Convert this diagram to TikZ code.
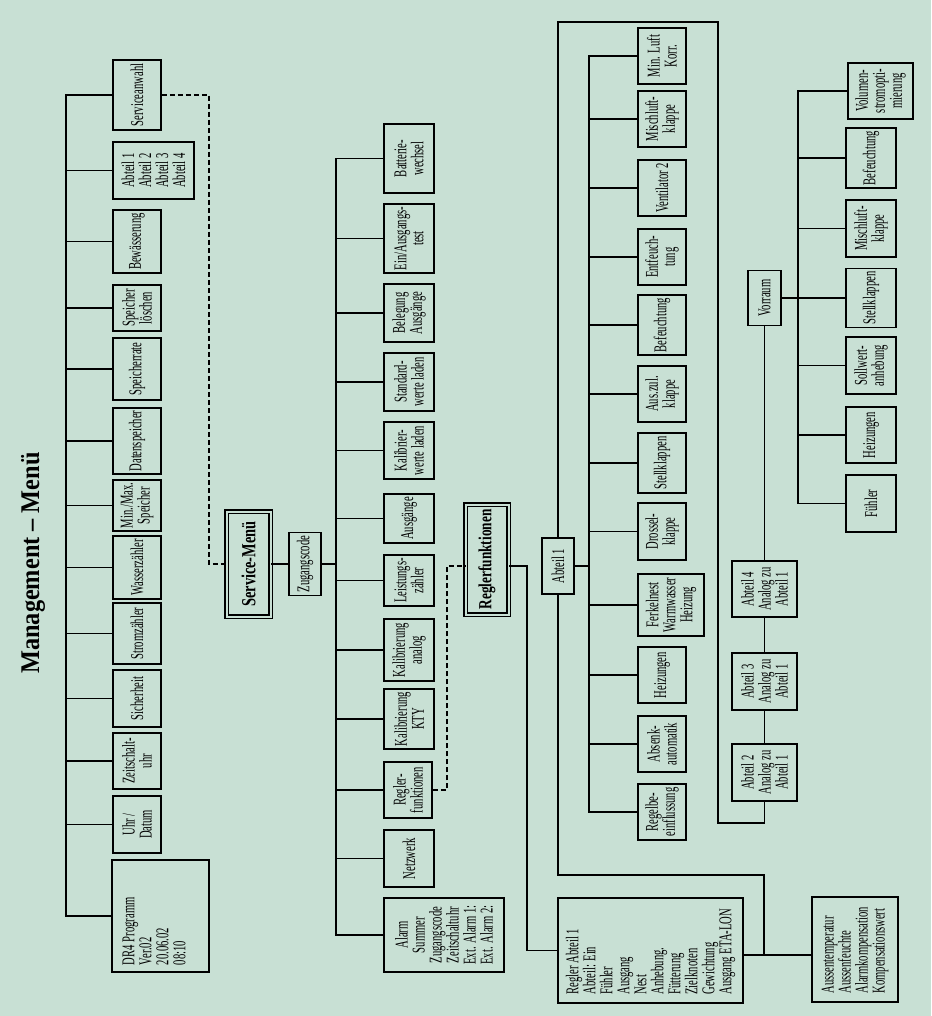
\documentclass[tikz,border=0pt]{standalone}
\usepackage{fontspec}
\setmainfont{Liberation Serif}[FakeStretch=0.59]
\newfontfamily\titlefont{Liberation Serif}[FakeStretch=0.9]
\newfontfamily\boldcond{Liberation Serif}[FakeStretch=0.72]
\definecolor{bg}{RGB}{200,224,212}
\begin{document}
\begin{tikzpicture}[x=1pt,y=-1pt,
  box/.style={draw, line width=1.5pt, rotate=90, inner sep=0pt, align=center,
    font=\fontsize{18}{17}\selectfont},
  txt/.style={rotate=90, inner sep=0pt, font=\fontsize{18}{17}\selectfont},
  dbl/.style={draw, line width=1.3pt, double=bg, double distance=2pt, rotate=90,
    inner sep=0pt, align=center},
  ln/.style={line width=1.3pt},
  dl/.style={line width=1.3pt, dash pattern=on 5pt off 3pt},
]
\fill[bg] (0,0) rectangle (931,1016);
\useasboundingbox (0,0) rectangle (931,1016);

% title
\node[rotate=90, inner sep=0pt, font=\titlefont\bfseries\fontsize{27}{30}\selectfont] (title) at (33,563) {Management – Menü};

% bus coordinates
\coordinate (mb) at (66,0);
\coordinate (dv) at (209,0);
\coordinate (sb) at (336,0);
\coordinate (dv2) at (447,0);
\coordinate (rv) at (527,0);
\coordinate (ab) at (589,0);
\coordinate (lx) at (718,0);
\coordinate (jx) at (764,0);
\coordinate (vb) at (798,0);
\coordinate (ry) at (0,566);
\coordinate (ay) at (0,955);
\coordinate (jy) at (0,875);
\coordinate (ty) at (0,22);
\coordinate (ly) at (0,823);

% top level boxes
\node[box, minimum width=70, minimum height=48] (serv) at (137,95) {Serviceanwahl};
\node[box, minimum width=57, minimum height=81] (abt) at (153.5,170.5) {Abteil 1\\Abteil 2\\Abteil 3\\Abteil 4};
\node[box, minimum width=63, minimum height=48] (bew) at (137,241.5) {Bewässerung};
\node[box, minimum width=46, minimum height=48] (splo) at (137,308) {Speicher\\löschen};
\node[box, minimum width=62, minimum height=48] (sprate) at (137,369) {Speicherrate};
\node[box, minimum width=66, minimum height=48] (daten) at (137,441) {Datenspeicher};
\node[box, minimum width=51, minimum height=48] (minmax) at (137,505.5) {Min./Max.\\Speicher};
\node[box, minimum width=63, minimum height=48] (wasser) at (137,567.5) {Wasserzähler};
\node[box, minimum width=61, minimum height=48] (strom) at (137,633.5) {Stromzähler};
\node[box, minimum width=57, minimum height=48] (sich) at (137,698.5) {Sicherheit};
\node[box, minimum width=56, minimum height=48] (zeit) at (137,761) {Zeitschalt-\\uhr};
\node[box, minimum width=57, minimum height=48] (uhr) at (137,824.5) {Uhr /\\Datum};
\node[box, minimum width=112, minimum height=97] (dr4) at (160.5,916) {};
\node[txt, text width=98pt, align=flush left] (dr4t) at (154,916) {DR4 Programm\\Ver.02\\20.06.02\\08:10};

\draw[ln] (serv.north) -- (serv.north -| mb) -- (dr4.north -| mb) -- (dr4.north);
\foreach \n in {abt,bew,splo,sprate,daten,minmax,wasser,strom,sich,zeit,uhr}
  \draw[ln] (\n.north) -- (\n.north -| mb);

% service menu
\node[dbl, minimum width=105, minimum height=44, font=\boldcond\bfseries\fontsize{20}{22}\selectfont] (svm) at (248.5,564) {Service-Menü};
\draw[dl] (serv.south) -- (serv.south -| dv) |- (svm.north);
\node[box, minimum width=63, minimum height=32] (zug) at (305,564) {Zugangscode};
\draw[ln] (svm.south) -- (zug.north);
\draw[ln] (zug.south) -- (zug.south -| sb);

\node[box, minimum width=69, minimum height=50] (batt) at (409,158.5) {Batterie-\\wechsel};
\node[box, minimum width=69, minimum height=50] (einaus) at (409,238.5) {Ein/Ausgangs-\\test};
\node[box, minimum width=58, minimum height=50] (beleg) at (409,313) {Belegung\\Ausgänge};
\node[box, minimum width=58, minimum height=50] (stand) at (409,382) {Standard-\\werte laden};
\node[box, minimum width=57, minimum height=50] (kalw) at (409,450.5) {Kalibrier-\\werte laden};
\node[box, minimum width=49, minimum height=50] (ausg) at (409,518.5) {Ausgänge};
\node[box, minimum width=51, minimum height=50] (leist) at (409,580.5) {Leistungs-\\zähler};
\node[box, minimum width=62, minimum height=50] (kalan) at (409,650) {Kalibrierung\\analog};
\node[box, minimum width=60, minimum height=50] (kty) at (409,719) {Kalibrierung\\KTY};
\node[box, minimum width=56, minimum height=48] (regk) at (408,790) {Regler-\\funktionen};
\node[box, minimum width=57, minimum height=50] (netz) at (409,858.5) {Netzwerk};
\node[box, minimum width=74, minimum height=120] (alarm) at (444,935) {Alarm\\Summer\\Zugangscode\\Zeitschaltuhr\\Ext. Alarm 1:\\Ext. Alarm 2:};

\draw[ln] (batt.north) -- (batt.north -| sb) -- (alarm.north -| sb) -- (alarm.north);
\foreach \n in {einaus,beleg,stand,kalw,ausg,leist,kalan,kty,regk,netz}
  \draw[ln] (\n.north) -- (\n.north -| sb);

% Reglerfunktionen
\node[dbl, minimum width=110, minimum height=43, font=\boldcond\bfseries\fontsize{18.5}{20}\selectfont] (regf) at (487,559.5) {Reglerfunktionen};
\draw[dl] (regk.south) -- (regk.south -| dv2) |- (regf.north |- ry);
\node[box, minimum width=105, minimum height=185, text width=88pt, align=flush left] (regab) at (650.5,950.5)
  {Regler Abteil 1\\Abteil: Ein\\Fühler\\Ausgang\\Nest\\Anhebung.\\Fütterung\\Zielknoten\\Gewichtung\\Ausgang ETA-LON};
\draw[ln] (regf.south |- ry) -- (rv |- ry) -- (rv |- regab.north) -- (regab.north);
\node[box, minimum width=105, minimum height=86, text width=88pt, align=flush left] (aussen) at (855,949.5)
  {Aussentemperatur\\Aussenfeuchte\\Alarmkompensation\\Kompensationswert};
\draw[ln] (regab.south |- ay) -- (aussen.north |- ay);

% Abteil 1
\node[box, minimum width=56, minimum height=32] (abt1) at (558,566) {Abteil 1};
\draw[ln] (jx |- ay) -- (jx |- jy) -- (abt1.west |- jy) -- (abt1.west);
\draw[ln] (abt1.south) -- (abt1.south -| ab);

\node[box, minimum width=56, minimum height=48] (minluft) at (662,56) {Min. Luft\\Korr.};
\node[box, minimum width=56, minimum height=48] (misch1) at (662,119) {Mischluft-\\klappe};
\node[box, minimum width=56, minimum height=48] (vent) at (662,188) {Ventilator 2};
\node[box, minimum width=56, minimum height=48] (entf) at (662,257) {Entfeuch-\\tung};
\node[box, minimum width=60, minimum height=48] (bef1) at (662,325) {Befeuchtung};
\node[box, minimum width=56, minimum height=48] (auszul) at (662,394) {Aus.zul.\\klappe};
\node[box, minimum width=60, minimum height=48] (stell1) at (662,463) {Stellklappen};
\node[box, minimum width=57, minimum height=48] (dross) at (662,531.5) {Drossel-\\klappe};
\node[box, minimum width=62, minimum height=66] (ferk) at (671,605) {Ferkelnest\\Warmwasser\\Heizung};
\node[box, minimum width=56, minimum height=48] (heiz1) at (662,675) {Heizungen};
\node[box, minimum width=56, minimum height=48] (absenk) at (662,744) {Absenk-\\automatik};
\node[box, minimum width=56, minimum height=48] (regbe) at (662,812) {Regelbe-\\einflussung};

\draw[ln] (minluft.north) -- (minluft.north -| ab) -- (regbe.north -| ab) -- (regbe.north);
\foreach \n in {misch1,vent,entf,bef1,auszul,stell1,dross,ferk,heiz1,absenk}
  \draw[ln] (\n.north) -- (\n.north -| ab);

% Abteil 2-4 and Vorraum
\node[box, minimum width=56, minimum height=65] (abt4) at (764.5,589) {Abteil 4\\Analog zu\\Abteil 1};
\node[box, minimum width=57, minimum height=65] (abt3) at (764.5,681.5) {Abteil 3\\Analog zu\\Abteil 1};
\node[box, minimum width=57, minimum height=65] (abt2) at (764.5,772.5) {Abteil 2\\Analog zu\\Abteil 1};
\draw[ln] (abt1.east) -- (abt1.east |- ty) -- (lx |- ty) -- (lx |- ly) -- (abt2.west |- ly) -- (abt2.west);
\draw[ln] (abt4.west) -- (abt3.east);
\draw[ln] (abt3.west) -- (abt2.east);

\node[box, minimum width=55, minimum height=33] (vor) at (764.5,298) {Vorraum};
\draw[ln] (vor.west) -- (abt4.east);

\node[box, minimum width=56, minimum height=65] (volu) at (880.5,91) {Volumen-\\stromopti-\\mierung};
\node[box, minimum width=60, minimum height=50] (bef2) at (871,158) {Befeuchtung};
\node[box, minimum width=57, minimum height=50] (misch2) at (871,228.5) {Mischluft-\\klappe};
\node[box, minimum width=59, minimum height=50] (stell2) at (871,298) {Stellklappen};
\node[box, minimum width=57, minimum height=50] (soll) at (871,365.5) {Sollwert-\\anhebung};
\node[box, minimum width=56, minimum height=50] (heiz2) at (871,435) {Heizungen};
\node[box, minimum width=57, minimum height=50] (fuehl) at (871,503.5) {Fühler};

\draw[ln] (vor.south) -- (stell2.north);
\draw[ln] (volu.north) -- (volu.north -| vb) -- (fuehl.north -| vb) -- (fuehl.north);
\foreach \n in {bef2,misch2,soll,heiz2}
  \draw[ln] (\n.north) -- (\n.north -| vb);
\end{tikzpicture}
\end{document}
